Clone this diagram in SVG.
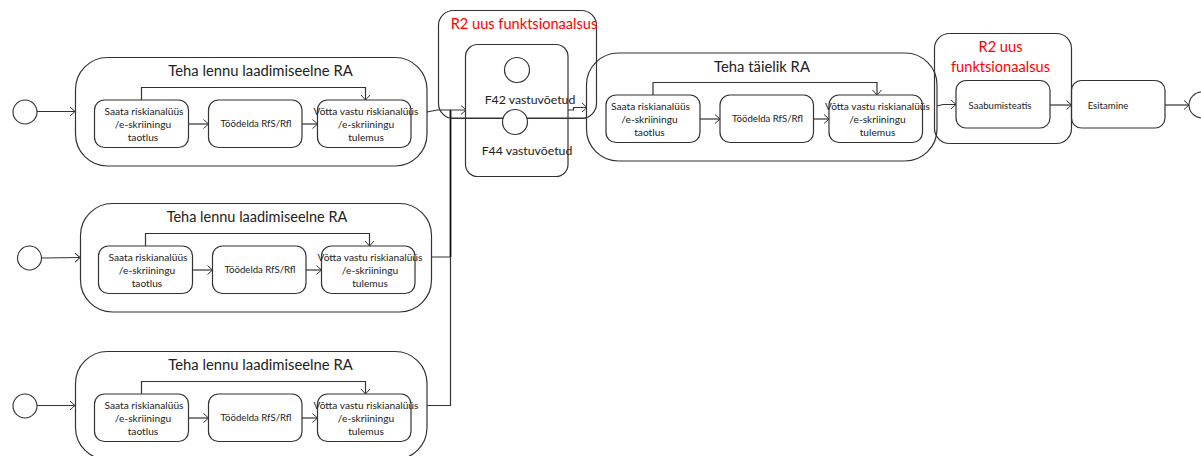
<svg xmlns="http://www.w3.org/2000/svg" width="1201" height="456" viewBox="0 0 1201 456">
<style>
text{font-family:Lato,Carlito,"Liberation Sans",sans-serif;fill:#222;text-anchor:middle}
.s{font-size:9.6px}.w{font-size:10.2px}.m{font-size:14.8px}.f{font-size:12.3px}.r{font-size:14.6px;fill:#f00}
.b{fill:none;stroke:#333;stroke-width:1.2}
.c{fill:#fff;stroke:#333;stroke-width:1.1}
.l{fill:none;stroke:#333;stroke-width:1.2}
.a{marker-end:url(#ar)}
</style>
<defs>
<marker id="ar" markerUnits="userSpaceOnUse" markerWidth="10" markerHeight="12" refX="7" refY="6" orient="auto"><path d="M2 1.500L7 6L2 10.500" fill="none" stroke="#333" stroke-width="1"/></marker>
<g id="inner">
<rect class="b" x="94.500" y="100" width="94" height="47.500" rx="10"/>
<rect class="b" x="208.500" y="100" width="93.500" height="47.500" rx="10"/>
<rect class="b" x="317.500" y="100" width="93.500" height="47.500" rx="10"/>
<path class="l a" d="M188.500 124H208.500"/>
<path class="l a" d="M302 124H317.500"/>
<path class="l a" d="M141.500 100V87.500H365.500V100"/>
<text class="s" x="256" y="127">Töödelda RfS/Rfl</text>
<text class="w" x="366" y="115">Võtta vastu riskianalüüs</text>
<text class="w" x="366" y="128">/e-skriiningu</text>
<text class="w" x="366" y="140.500">tulemus</text>
</g>
<g id="first">
<text class="w" x="144" y="115">Saata riskianalüüs</text>
<text class="w" x="143" y="128">/e-skriiningu</text>
<text class="w" x="143" y="140.500">taotlus</text>
</g>
</defs>
<g id="connectors">
<path class="l a" d="M37 111.500H75"/>
<path class="l a" d="M42 258L80 257.500"/>
<path class="l a" d="M37 405.500H75"/>
<path class="l a" d="M427 112L437 110H466"/>
<path class="l" d="M450 118H587"/>
<path style="fill:none;stroke:#111;stroke-width:1.8" d="M450.500 110V257"/>
<path class="l" d="M432 257H450.500M450.500 257V405.500H427"/>
<path class="l a" d="M568 110H573.500V107.500H587"/>
<path class="l a" d="M937 106L943 104.500H956"/>
<path class="l a" d="M1050 105H1071.500"/>
<path class="l a" d="M1165 105H1189"/>
</g>
<g id="ra-1"><rect class="b" x="75.500" y="57.500" width="351.500" height="108.500" rx="32"/><text class="m" x="260.500" y="76">Teha lennu laadimiseelne RA</text><use href="#inner"/><use href="#first"/></g>
<g id="start-1"><circle class="c" cx="25" cy="112" r="12"/></g>
<g id="ra-2"><rect class="b" x="80.500" y="203.500" width="351" height="108.500" rx="32"/><text class="m" style="font-size:14.5px" x="257" y="222">Teha lennu laadimiseelne RA</text><use href="#inner" transform="translate(4 146)"/><use href="#first" transform="translate(4 146)"/></g>
<g id="start-2"><circle class="c" cx="29.500" cy="258" r="12"/></g>
<g id="ra-3"><rect class="b" x="75.500" y="351.500" width="351.500" height="108" rx="32"/><text class="m" x="260.500" y="370">Teha lennu laadimiseelne RA</text><use href="#inner" transform="translate(0 294)"/><use href="#first" transform="translate(0 294)"/></g>
<g id="start-3"><circle class="c" cx="25" cy="406" r="12"/></g>
<g id="r2-1"><rect class="b" x="438.500" y="10.500" width="158" height="108" rx="15"/><text class="r" x="524" y="29">R2 uus funktsionaalsus</text></g>
<g id="f-box"><rect class="b" x="465.500" y="44.500" width="102.500" height="132" rx="12"/>
<circle class="b" cx="517" cy="70" r="12.500"/><circle class="b" cx="515" cy="122" r="12.500" style="fill:#fff"/>
<text class="f" x="530" y="104">F42 vastuvõetud</text>
<text class="f" x="527" y="155">F44 vastuvõetud</text></g>
<g id="ra-full"><rect class="b" x="586.500" y="53" width="350.500" height="108" rx="32"/><text class="m" x="762" y="72">Teha täielik RA</text><use href="#inner" transform="translate(511.500 -5)"/><use href="#first" transform="translate(506.500 -5)"/></g>
<g id="r2-2"><rect class="b" x="934.500" y="33.500" width="137" height="110" rx="15"/><text class="r" x="1000.500" y="52">R2 uus</text><text class="r" x="1000.500" y="72">funktsionaalsus</text></g>
<g id="saabumisteatis"><rect class="b" x="956" y="80.500" width="94" height="47.500" rx="10"/><text class="s" x="1000" y="109">Saabumisteatis</text></g>
<g id="esitamine"><rect class="b" x="1071.500" y="80.500" width="93.500" height="47.500" rx="10"/><text class="s" x="1108" y="109">Esitamine</text></g>
<g id="end"><circle class="c" cx="1202" cy="105" r="13"/></g>
</svg>
